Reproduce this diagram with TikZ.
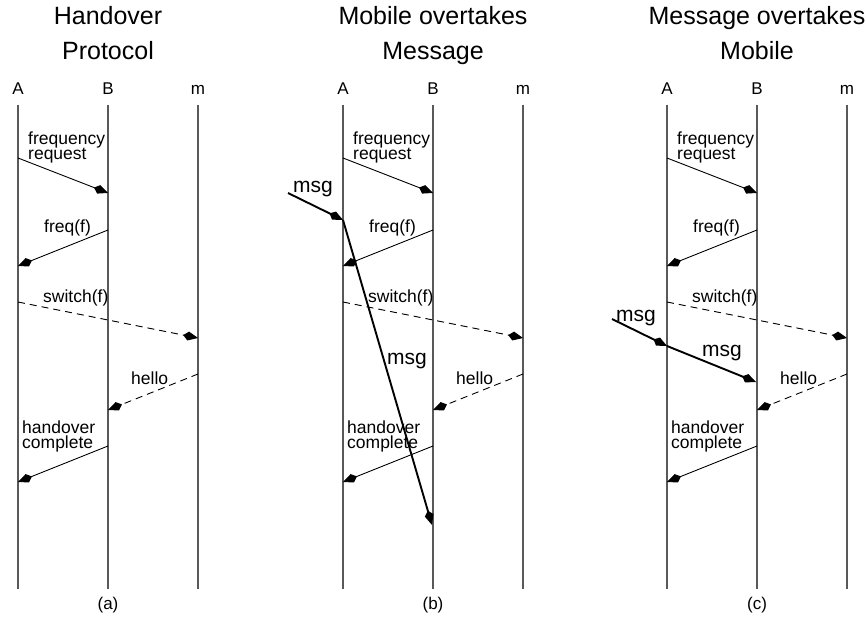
\documentclass[tikz,border=0pt]{standalone}
\usepackage{fontspec}
\setmainfont{Liberation Sans}
\usetikzlibrary{arrows.meta}
\begin{document}
\begin{tikzpicture}[x=1pt,y=-1pt,
  life/.style={draw=black!65, line width=1.3pt},
  msgarrow/.style={draw=black, line width=0.9pt, -{Kite[length=15pt,width=9pt,inset=5pt]}},
  dasharrow/.style={msgarrow, dash pattern=on 7pt off 5pt},
  bigmsg/.style={draw=black, line width=1.9pt, -{Kite[length=15pt,width=9pt,inset=5pt]}},
  title/.style={anchor=base, inner sep=0pt, font=\fontsize{25}{30}\selectfont},
  hdr/.style={anchor=base, inner sep=0pt, font=\fontsize{17}{20}\selectfont},
  lbl/.style={anchor=base west, inner sep=0pt, font=\fontsize{17.5}{21}\selectfont},
  lbltwo/.style={anchor=base west, inner sep=0pt, align=left, font=\fontsize{17.5}{14.5}\selectfont},
  msglbl/.style={anchor=base west, inner sep=0pt, font=\fontsize{21}{25}\selectfont},
  capt/.style={anchor=base, inner sep=0pt, font=\fontsize{17}{20}\selectfont}
]
\useasboundingbox (0,0) rectangle (866,617);
\foreach \p/\ox/\ta/\tb in {a/0/Handover/Protocol, b/325/Mobile overtakes/Message, c/649/Message overtakes/Mobile} {
\begin{scope}[xshift=\ox]
  \node[title] (\p-t1) at (108,25) {\ta};
  \node[title] (\p-t2) at (108,60) {\tb};
  \node[hdr] (\p-A) at (18,95) {A};
  \node[hdr] (\p-B) at (108,95) {B};
  \node[hdr] (\p-M) at (198,95) {m};
  \coordinate (\p-At) at (18,105);  \coordinate (\p-Ab) at (18,589);
  \coordinate (\p-Bt) at (108,105); \coordinate (\p-Bb) at (108,589);
  \coordinate (\p-Mt) at (198,105); \coordinate (\p-Mb) at (198,589);
  \draw[life] (\p-At) -- (\p-Ab);
  \draw[life] (\p-Bt) -- (\p-Bb);
  \draw[life] (\p-Mt) -- (\p-Mb);
  % frequency request
  \coordinate (\p-fr1) at (18,158); \coordinate (\p-fr2) at (108,193);
  \draw[msgarrow] (\p-fr1) -- (\p-fr2);
  \node[lbltwo] (\p-lfr) at (28,160) {frequency\\request};
  % freq(f)
  \coordinate (\p-fq1) at (108,230); \coordinate (\p-fq2) at (18,266);
  \draw[msgarrow] (\p-fq1) -- (\p-fq2);
  \node[lbl] (\p-lfq) at (44,233) {freq(f)};
  % switch(f)
  \coordinate (\p-sw1) at (18,302); \coordinate (\p-sw2) at (198,338);
  \draw[dasharrow] (\p-sw1) -- (\p-sw2);
  \node[lbl] (\p-lsw) at (43,302) {switch(f)};
  % hello
  \coordinate (\p-he1) at (198,374); \coordinate (\p-he2) at (108,410);
  \draw[dasharrow] (\p-he1) -- (\p-he2);
  \node[lbl] (\p-lhe) at (131,384) {hello};
  % handover complete
  \coordinate (\p-hc1) at (108,446); \coordinate (\p-hc2) at (18,482);
  \draw[msgarrow] (\p-hc1) -- (\p-hc2);
  \node[lbltwo] (\p-lhc) at (22,448) {handover\\complete};
  \node[capt] (\p-cap) at (108,609) {(\p)};
\end{scope}
}
% panel b: mobile overtakes message
\coordinate (b-m0) at (288,193);
\coordinate (b-m1) at (343,220);
\coordinate (b-m2) at (432,525);
\draw[bigmsg] (b-m0) -- (b-m1);
\draw[bigmsg] (b-m1) -- (b-m2);
\node[msglbl] (b-lm1) at (293,193) {msg};
\node[msglbl] (b-lm2) at (387,364) {msg};
% panel c: message overtakes mobile
\coordinate (c-m0) at (612,319);
\coordinate (c-m1) at (667,346);
\coordinate (c-m2) at (756,382);
\draw[bigmsg] (c-m0) -- (c-m1);
\draw[bigmsg] (c-m1) -- (c-m2);
\node[msglbl] (c-lm1) at (616,321) {msg};
\node[msglbl] (c-lm2) at (702,356) {msg};
\end{tikzpicture}
\end{document}
